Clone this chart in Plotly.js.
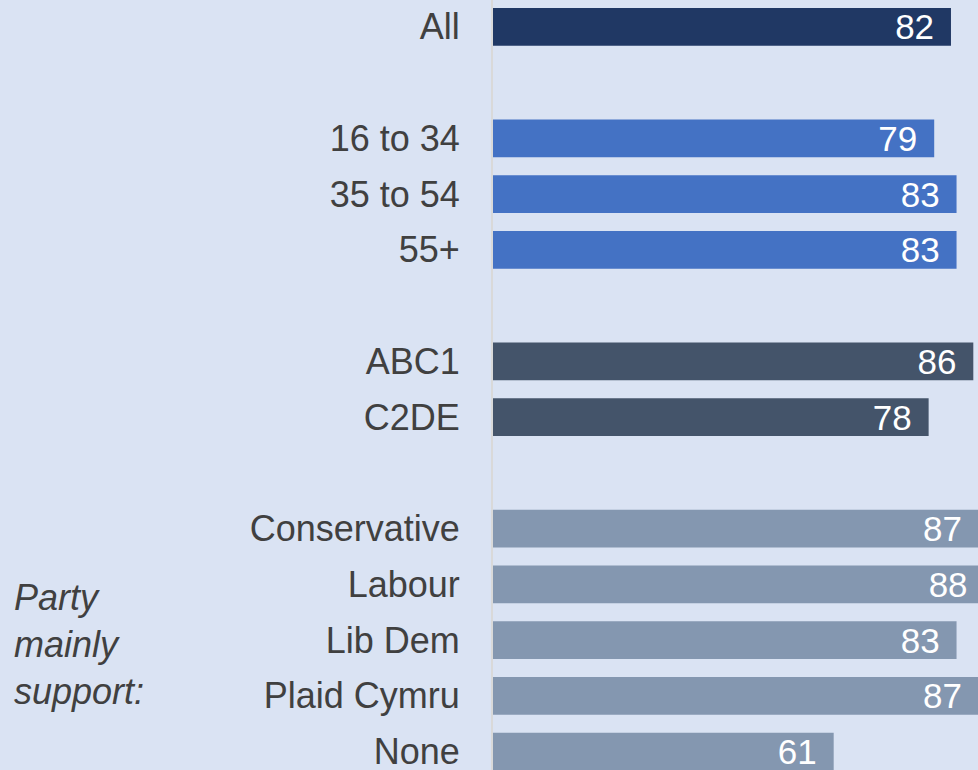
<!DOCTYPE html>
<html>
<head>
<meta charset="utf-8">
<script src="https://cdn.plot.ly/plotly-3.0.1.min.js"></script>
<style>html,body{margin:0;padding:0;background:#dae3f3;overflow:hidden;}#chart{width:978px;height:770px;}</style>
</head>
<body>
<div id="chart"></div>
<script>
// Data
var categories = ['All', '16 to 34', '35 to 54', '55+', 'ABC1', 'C2DE', 'Conservative', 'Labour', 'Lib Dem', 'Plaid Cymru', 'None'];
var values = [82, 79, 83, 83, 86, 78, 87, 88, 83, 87, 61];
var groups = ['all', 'age', 'age', 'age', 'seg', 'seg', 'party', 'party', 'party', 'party', 'party'];
// Row order including blank spacer rows between groups
var rowOrder = ['All', ' ', '16 to 34', '35 to 54', '55+', '  ', 'ABC1', 'C2DE', '   ', 'Conservative', 'Labour', 'Lib Dem', 'Plaid Cymru', 'None'];
var sideNote = 'Party<br>mainly<br>support:';

var groupColors = {all: '#203864', age: '#4472c4', seg: '#44546a', party: '#8497b0'};
var barColors = groups.map(function (g) { return groupColors[g]; });

var bars = {
  type: 'bar',
  orientation: 'h',
  x: values,
  y: categories,
  marker: {color: barColors, line: {width: 0}},
  texttemplate: '%{x}<span style="font-size:25px">\u00a0\u00a0</span>',
  textposition: 'inside',
  insidetextanchor: 'end',
  constraintext: 'none',
  insidetextfont: {family: 'Liberation Sans, Arial, sans-serif', size: 35, color: '#ffffff'},
  hoverinfo: 'skip',
  showlegend: false
};

var layout = {
  width: 978,
  height: 770,
  margin: {l: 493, r: 0, t: 0, b: 0, pad: 0},
  paper_bgcolor: '#dae3f3',
  plot_bgcolor: '#dae3f3',
  bargap: 0.324,
  font: {family: 'Liberation Sans, Arial, sans-serif', color: '#404040'},
  xaxis: {
    range: [0, 86.84],
    visible: false,
    showgrid: false,
    zeroline: false,
    fixedrange: true
  },
  yaxis: {
    type: 'category',
    categoryorder: 'array',
    categoryarray: rowOrder,
    range: [13.331, -0.481],
    autorange: false,
    showgrid: false,
    zeroline: false,
    showline: true,
    linecolor: '#d9d9d9',
    linewidth: 2,
    ticks: '',
    ticklabelstandoff: 24,
    tickfont: {family: 'Liberation Sans, Arial, sans-serif', size: 36, color: '#404040'},
    fixedrange: true
  },
  annotations: [{
    xref: 'paper', yref: 'paper',
    x: -0.9918, y: 0.1636,
    xanchor: 'left', yanchor: 'middle',
    align: 'left',
    showarrow: false,
    text: '<i>' + sideNote + '</i>',
    font: {family: 'Liberation Sans, Arial, sans-serif', size: 36, color: '#404040'}
  }]
};

Plotly.newPlot('chart', [bars], layout, {displayModeBar: false, staticPlot: true});
</script>
</body>
</html>
